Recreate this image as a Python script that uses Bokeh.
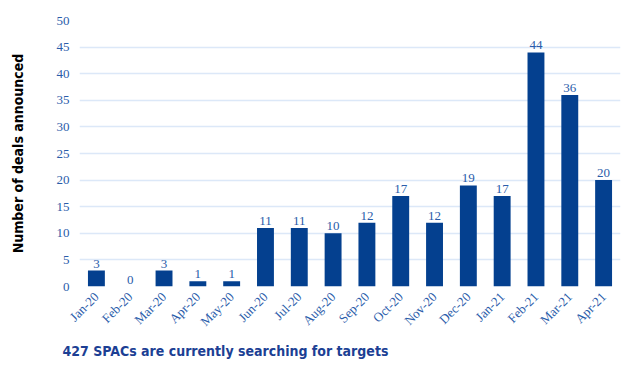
from math import pi
from bokeh.plotting import figure
from bokeh.models import ColumnDataSource, Title, LabelSet
from bokeh.embed import file_html
from bokeh.resources import INLINE

months = ["Jan-20", "Feb-20", "Mar-20", "Apr-20", "May-20", "Jun-20", "Jul-20", "Aug-20",
          "Sep-20", "Oct-20", "Nov-20", "Dec-20", "Jan-21", "Feb-21", "Mar-21", "Apr-21"]
deals = [3, 0, 3, 1, 1, 11, 11, 10, 12, 17, 12, 19, 17, 44, 36, 20]
y_ticks = [0, 5, 10, 15, 20, 25, 30, 35, 40, 45, 50]

BAR = "#04408f"
TXT = "#2a5caa"
SERIF = "Liberation Serif"
NARROW = "DejaVu Sans Condensed"

src = ColumnDataSource(dict(m=months, v=deals, t=[str(d) for d in deals]))

p = figure(x_range=months, y_range=(0, 50), width=624, height=369,
           output_backend="svg", toolbar_location=None,
           min_border_left=79, min_border_right=4, min_border_top=20, min_border_bottom=83)
p.outline_line_color = None
p.background_fill_color = "white"

p.vbar(x="m", top="v", width=0.5, source=src, fill_color=BAR, line_color=None)
p.add_layout(LabelSet(x="m", y="v", text="t", source=src, text_align="center",
                      text_baseline="bottom", y_offset=3, text_font=SERIF,
                      text_font_size="13px", text_color=TXT))

p.xgrid.grid_line_color = None
p.ygrid.grid_line_color = "#dce8f8"
p.ygrid.grid_line_width = 1.5
p.yaxis.ticker = y_ticks

for ax in (p.xaxis[0], p.yaxis[0]):
    ax.axis_line_color = None
    ax.major_tick_line_color = None
    ax.minor_tick_line_color = None
    ax.major_tick_out = 0
    ax.major_tick_in = 0
    ax.minor_tick_out = 0
    ax.major_label_text_font = SERIF
    ax.major_label_text_color = TXT
    ax.major_label_text_font_size = "13px"

p.xaxis.major_label_orientation = pi / 4
p.xaxis.major_label_standoff = 8
p.yaxis.major_label_standoff = 10
p.yaxis.axis_label = "Number of deals announced"
p.yaxis.axis_label_text_font = NARROW
p.yaxis.axis_label_text_font_style = "bold"
p.yaxis.axis_label_text_font_size = "14px"
p.yaxis.axis_label_text_color = "black"
p.yaxis.axis_label_standoff = 28

p.add_layout(Title(text="427 SPACs are currently searching for targets", align="left",
                   offset=-17, text_font=NARROW, text_font_style="bold",
                   text_font_size="14px", text_color="#1c3f94", standoff=6), "below")

open("out.html", "w").write(file_html(p, INLINE))
